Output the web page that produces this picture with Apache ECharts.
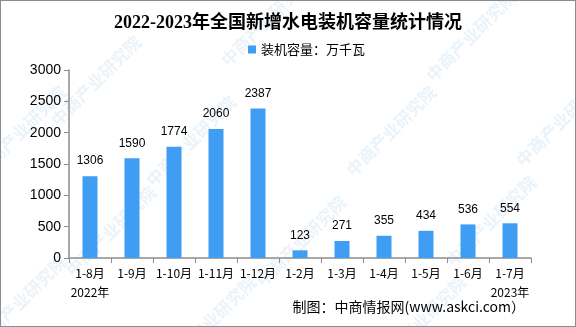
<!DOCTYPE html>
<html>
<head>
<meta charset="utf-8">
<script src="https://cdn.jsdelivr.net/npm/echarts@6/dist/echarts.min.js"></script>
<style>
  html, body { margin: 0; padding: 0; background: #fff; }
  #chart { width: 576px; height: 327px; box-sizing: border-box; border: 1px solid #8c8c8c; }
</style>
</head>
<body>
<div id="chart"></div>
<script>
// Cumulative new hydropower capacity (10k kW), Jan–Aug 2022 through Jan–Jul 2023
const categories = ['1-8月\n2022年', '1-9月', '1-10月', '1-11月', '1-12月',
                    '1-2月', '1-3月', '1-4月', '1-5月', '1-6月', '1-7月\n2023年'];
const capacity = [1306, 1590, 1774, 2060, 2387, 123, 271, 355, 434, 536, 554];
const yTicks = [0, 500, 1000, 1500, 2000, 2500, 3000];

const chart = echarts.init(document.getElementById('chart'), null, { renderer: 'canvas' });

// Faint diagonal brand marks across the background
const markSpots = [[95, 80], [265, 20], [470, 35], [20, 130], [190, 140], [390, 130],
                   [560, 120], [110, 230], [300, 240], [490, 220], [20, 300], [210, 320], [420, 320]];
const marks = markSpots.map(([x, y]) => ({
  type: 'text', x: x, y: y, rotation: Math.PI / 4, z: -1, silent: true,
  style: { text: '中商产业研究院', fill: 'rgba(150,195,225,0.2)',
           font: 'bold 17px "Noto Sans CJK SC"', align: 'center', verticalAlign: 'middle' }
}));

chart.setOption({
  animation: false,
  backgroundColor: '#fff',
  title: {
    text: '2022-2023年全国新增水电装机容量统计情况',
    left: 'center', top: 8,
    textStyle: { fontFamily: '"Liberation Serif", "Noto Sans CJK SC"', fontWeight: 'bold',
                 fontSize: 18, color: '#000' }
  },
  legend: {
    data: ['装机容量：万千瓦'],
    left: 242, top: 37,
    itemWidth: 8, itemHeight: 8, itemGap: 6,
    icon: 'rect',
    textStyle: { fontFamily: '"Noto Sans CJK SC"', fontSize: 13, color: '#000' }
  },
  graphic: marks.concat([{
    type: 'text', right: 50, top: 299,
    style: { text: '制图：中商情报网(www.askci.com）', fill: '#000',
             font: '14px "Noto Sans CJK SC"' }
  }]),
  grid: { left: 68, right: 44, top: 69, bottom: 68 },
  xAxis: {
    type: 'category',
    data: categories,
    axisLine: { lineStyle: { color: '#8c8c8c', width: 1.5 } },
    axisTick: { show: true, length: 5, lineStyle: { color: '#8c8c8c' } },
    axisLabel: { color: '#000', fontSize: 12, fontFamily: '"Noto Sans CJK SC"',
                 interval: 0, lineHeight: 19, margin: 6 }
  },
  yAxis: {
    type: 'value',
    min: yTicks[0], max: yTicks[yTicks.length - 1], interval: 500,
    splitLine: { show: false },
    axisLine: { show: true, lineStyle: { color: '#8c8c8c', width: 1.5 } },
    axisTick: { show: true, length: 5, lineStyle: { color: '#8c8c8c' } },
    axisLabel: { color: '#000', fontSize: 14, fontFamily: '"Liberation Sans"', margin: 8,
                 formatter: v => String(v) }
  },
  series: [{
    name: '装机容量：万千瓦',
    type: 'bar',
    data: capacity,
    barWidth: 15,
    itemStyle: { color: '#3f9ef3' },
    label: { show: true, position: 'top', distance: 9, color: '#000',
             fontSize: 12, fontFamily: '"Liberation Sans"' }
  }]
});
</script>
</body>
</html>
